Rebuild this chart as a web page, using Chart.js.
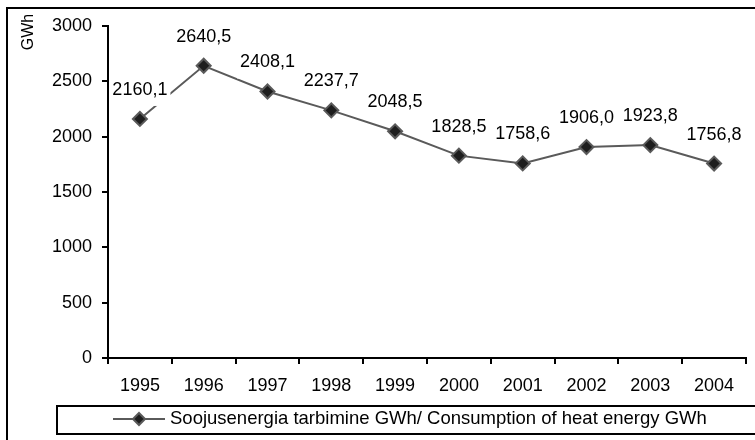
<!DOCTYPE html>
<html>
<head>
<meta charset="utf-8">
<script src="https://cdn.jsdelivr.net/npm/chart.js@4/dist/chart.umd.min.js"></script>
<style>
    html, body { margin: 0; padding: 0; background: #fff; }
    #wrap { width: 755px; height: 440px; position: relative; }
</style>
</head>
<body>
<div id="wrap"><canvas id="heatChart" width="755" height="440"></canvas></div>
<script>
// ── Data ──────────────────────────────────────────────────────────────────────

const years = ['1995', '1996', '1997', '1998', '1999', '2000', '2001', '2002', '2003', '2004'];
const consumption = [2160.1, 2640.5, 2408.1, 2237.7, 2048.5, 1828.5, 1758.6, 1906.0, 1923.8, 1756.8];
const yTicks = [0, 500, 1000, 1500, 2000, 2500, 3000];
const seriesLabel = 'Soojusenergia tarbimine GWh/ Consumption of heat energy GWh';
const unitLabel = 'GWh';

const FONT = "'Liberation Sans', Arial, sans-serif";
const LINE_COLOR = '#5a5a5a';
const MARK_FILL = '#1e1e1e';

function fmt(v) {
    return v.toFixed(1).replace('.', ',');
}

// ── Extra drawing: frame, value labels, unit, legend ──────────────────────────

const decor = {
    id: 'decor',
    beforeDraw(chart) {
        const ctx = chart.ctx;
        ctx.save();
        ctx.fillStyle = '#fff';
        ctx.fillRect(0, 0, chart.width, chart.height);
        ctx.strokeStyle = '#000';
        ctx.lineWidth = 2;
        ctx.strokeRect(7, 8, chart.width + 20, chart.height + 20);
        ctx.restore();
    },
    afterDatasetsDraw(chart) {
        const ctx = chart.ctx;
        const meta = chart.getDatasetMeta(0);
        ctx.save();
        ctx.font = `18px ${FONT}`;
        ctx.textAlign = 'center';
        ctx.textBaseline = 'middle';
        meta.data.forEach((pt, i) => {
            const txt = fmt(consumption[i]);
            const w = ctx.measureText(txt).width;
            const cy = pt.y - 29;
            ctx.fillStyle = '#fff';
            ctx.fillRect(pt.x - w / 2 - 3, cy - 12, w + 6, 28);
            ctx.fillStyle = '#000';
            ctx.fillText(txt, pt.x, cy);
        });
        ctx.restore();
    },
    afterDraw(chart) {
        const ctx = chart.ctx;
        ctx.save();

        // unit title
        ctx.translate(29, 32);
        ctx.rotate(-Math.PI / 2);
        ctx.font = `16px ${FONT}`;
        ctx.textAlign = 'center';
        ctx.textBaseline = 'middle';
        ctx.fillStyle = '#000';
        ctx.fillText(unitLabel, 0, 0);
        ctx.setTransform(1, 0, 0, 1, 0, 0);

        // legend box
        ctx.strokeStyle = '#000';
        ctx.lineWidth = 2;
        ctx.strokeRect(57, 406, chart.width, 28);
        const ly = 419;
        ctx.strokeStyle = LINE_COLOR;
        ctx.beginPath();
        ctx.moveTo(113, ly);
        ctx.lineTo(165, ly);
        ctx.stroke();
        ctx.beginPath();
        ctx.moveTo(139, ly - 6);
        ctx.lineTo(145, ly);
        ctx.lineTo(139, ly + 6);
        ctx.lineTo(133, ly);
        ctx.closePath();
        ctx.fillStyle = MARK_FILL;
        ctx.fill();
        ctx.strokeStyle = LINE_COLOR;
        ctx.stroke();
        ctx.font = `18.5px ${FONT}`;
        ctx.textAlign = 'left';
        ctx.textBaseline = 'middle';
        ctx.fillStyle = '#000';
        ctx.fillText(chart.data.datasets[0].label, 170, ly);
        ctx.restore();
    }
};

// ── Chart ─────────────────────────────────────────────────────────────────────

new Chart(document.getElementById('heatChart'), {
    type: 'line',
    data: {
        labels: years,
        datasets: [{
            label: seriesLabel,
            data: consumption,
            borderColor: LINE_COLOR,
            borderWidth: 2,
            tension: 0,
            pointStyle: 'rectRot',
            pointRadius: 7,
            pointBackgroundColor: MARK_FILL,
            pointBorderColor: LINE_COLOR,
            pointBorderWidth: 2
        }]
    },
    options: {
        responsive: false,
        animation: false,
        layout: { padding: { top: 26, right: 7, bottom: 42, left: 0 } },
        plugins: {
            legend: { display: false },
            tooltip: { enabled: false }
        },
        scales: {
            x: {
                offset: true,
                border: { display: true, color: '#000', width: 2 },
                grid: { offset: true, drawOnChartArea: false, drawTicks: true, tickLength: 6, color: '#000', lineWidth: 2 },
                ticks: { color: '#000', padding: 11, maxRotation: 0, font: { family: FONT, size: 18 } },
                afterFit(scale) { scale.height = 40; }
            },
            y: {
                min: 0,
                max: 3000,
                afterBuildTicks(scale) { scale.ticks = yTicks.map(v => ({ value: v })); },
                border: { display: true, color: '#000', width: 2 },
                grid: { drawOnChartArea: false, drawTicks: true, tickLength: 6, color: '#000', lineWidth: 2 },
                ticks: { color: '#000', padding: 10, font: { family: FONT, size: 18 }, callback: v => String(v) },
                afterFit(scale) { scale.width = 108; }
            }
        }
    },
    plugins: [decor]
});
</script>
</body>
</html>
